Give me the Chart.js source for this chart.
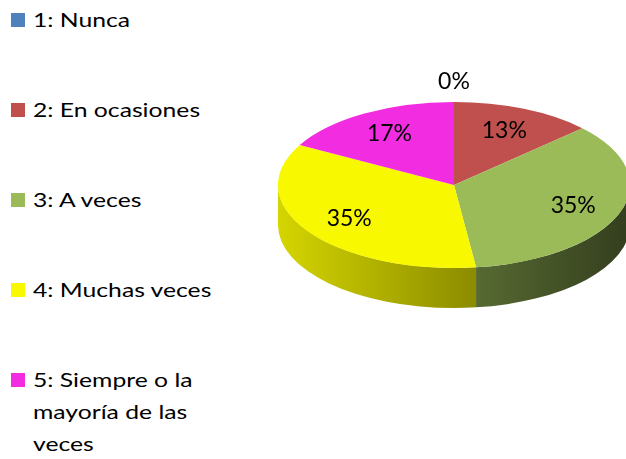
<!DOCTYPE html>
<html>
<head>
<meta charset="utf-8">
<script src="https://cdn.jsdelivr.net/npm/chart.js@4.4.0/dist/chart.umd.min.js"></script>
<style>
  html, body { margin: 0; padding: 0; background: #fff; overflow: hidden; }
  #page { position: relative; width: 626px; height: 459px; overflow: hidden; }
  #legend { position: absolute; left: 0; top: 0; }
  .item { position: absolute; left: 0; font-family: Lato, sans-serif; font-size: 19px; line-height: 32px; color: #000; }
  .box { position: absolute; left: 11px; top: 9px; width: 14px; height: 14px; }
  .txt { position: absolute; left: 33px; top: 0; width: 140px; transform: scaleX(1.3); transform-origin: 0 0; }
  #pie { position: absolute; left: 278px; top: 9px; }
</style>
</head>
<body>
<div id="page">
  <div id="legend"></div>
  <canvas id="pie" width="352" height="352"></canvas>
</div>
<script>
var categories = ['1: Nunca', '2: En ocasiones', '3: A veces', '4: Muchas veces', '5: Siempre o la mayoría de las veces'];
var percents = [0, 13, 35, 35, 17];
var colors = ['#4F81BD', '#C0504D', '#9BBB59', '#F8F800', '#F22CE1'];

// legend on the left, one row every 90px
var legend = document.getElementById('legend');
for (let i = 0; i < categories.length; i++) {
  var it = document.createElement('div');
  it.className = 'item';
  it.style.top = (4 + i * 90) + 'px';
  it.innerHTML = '<div class="box" style="background:' + colors[i] + '"></div><div class="txt">' + categories[i] + '</div>';
  legend.appendChild(it);
}

var squash = 83 / 176;
var depth = 40;

function shade(hex, f) {
  var n = parseInt(hex.slice(1), 16);
  var r = Math.round(((n >> 16) & 255) * f);
  var g = Math.round(((n >> 8) & 255) * f);
  var b = Math.round((n & 255) * f);
  return 'rgb(' + r + ',' + g + ',' + b + ')';
}

var pie3d = {
  id: 'pie3d',
  beforeDatasetsDraw: function(chart) {
    var ctx = chart.ctx;
    var arcs = chart.getDatasetMeta(0).data;
    // front side walls, only the lower half of the ellipse is visible
    arcs.forEach(function(arc, i) {
      var cx = arc.x, cy = arc.y, R = arc.outerRadius, Ry = R * squash;
      var a1 = Math.max(arc.startAngle, 0);
      var a2 = Math.min(arc.endAngle, Math.PI);
      if (a2 <= a1) return;
      var grad = ctx.createLinearGradient(cx - R, 0, cx + R, 0);
      grad.addColorStop(0, shade(colors[i], 0.86));
      grad.addColorStop(1, shade(colors[i], 0.33));
      ctx.beginPath();
      ctx.ellipse(cx, cy, R, Ry, 0, a1, a2);
      ctx.lineTo(cx + R * Math.cos(a2), cy + Ry * Math.sin(a2) + depth);
      ctx.ellipse(cx, cy + depth, R, Ry, 0, a2, a1, true);
      ctx.closePath();
      ctx.fillStyle = grad;
      ctx.fill();
    });
    var a0 = arcs[0];
    ctx.save();
    ctx.translate(a0.x, a0.y);
    ctx.scale(1, squash);
    ctx.translate(-a0.x, -a0.y);
  },
  afterDatasetsDraw: function(chart) {
    var ctx = chart.ctx;
    ctx.restore();
    var arcs = chart.getDatasetMeta(0).data;
    ctx.save();
    ctx.font = '23px Lato, sans-serif';
    ctx.fillStyle = '#000';
    ctx.textAlign = 'center';
    ctx.textBaseline = 'middle';
    arcs.forEach(function(arc, i) {
      var cx = arc.x, cy = arc.y, R = arc.outerRadius, Ry = R * squash;
      var mid = (arc.startAngle + arc.endAngle) / 2;
      var x, y;
      if (percents[i] == 0) {
        x = cx + (R + 20) * Math.cos(mid);
        y = cy + (Ry + 20) * Math.sin(mid);
      } else {
        x = cx + 0.72 * R * Math.cos(mid);
        y = cy + 0.72 * Ry * Math.sin(mid);
      }
      ctx.fillText(percents[i] + '%', x, y);
    });
    ctx.restore();
  }
};

var ctx = document.getElementById('pie').getContext('2d');
var myChart = new Chart(ctx, {
  type: 'pie',
  data: {
    labels: categories,
    datasets: [{
      data: percents,
      backgroundColor: colors,
      borderWidth: 0,
      hoverOffset: 0,
      clip: false
    }]
  },
  options: {
    responsive: false,
    animation: false,
    events: [],
    layout: { padding: 0 },
    plugins: {
      legend: { display: false },
      tooltip: { enabled: false }
    }
  },
  plugins: [pie3d]
});
</script>
</body>
</html>
